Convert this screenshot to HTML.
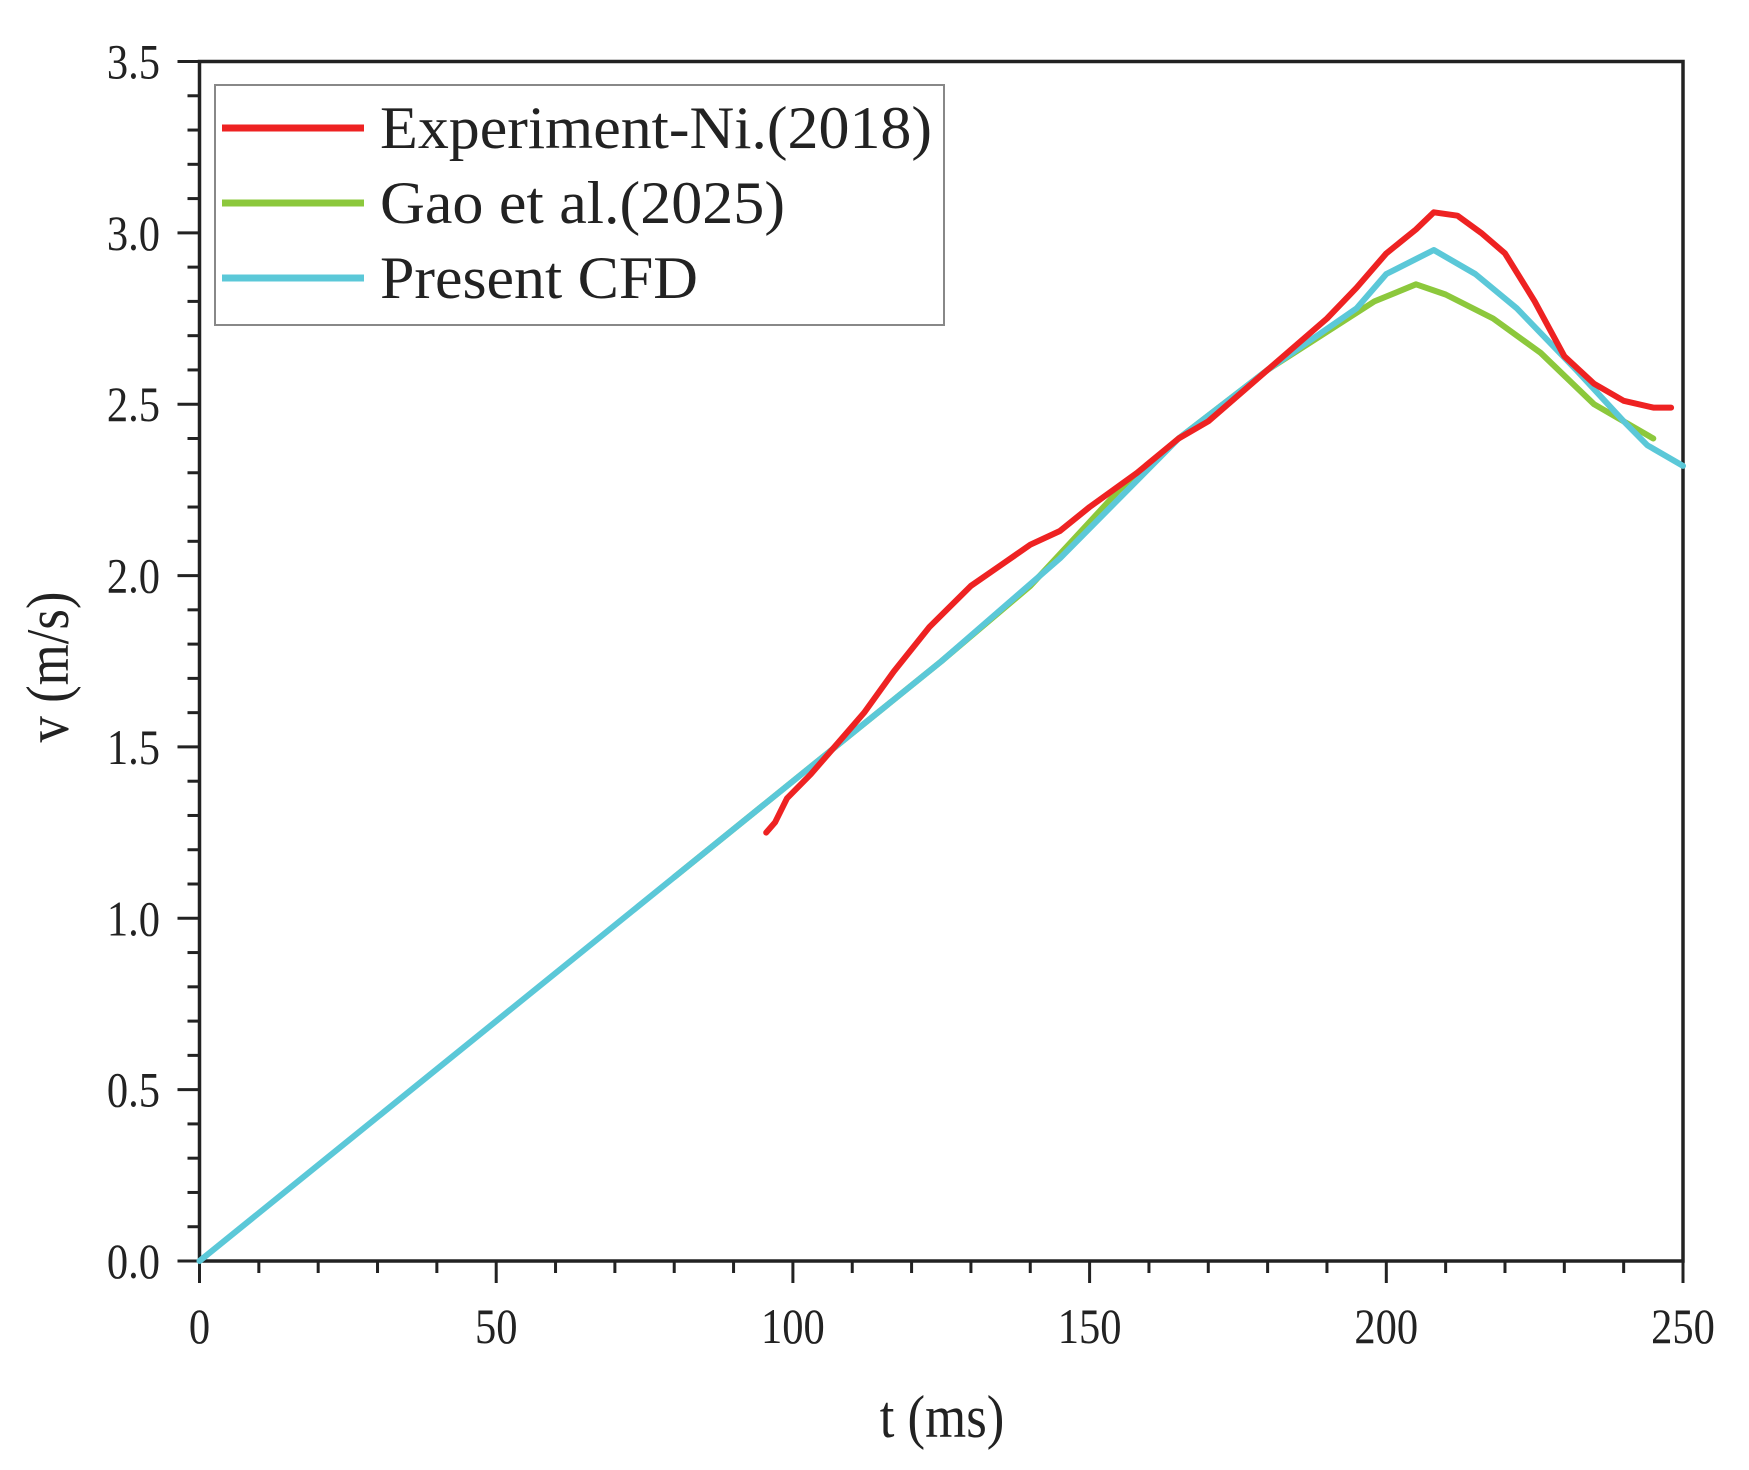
<!DOCTYPE html>
<html><head><meta charset="utf-8"><style>
html,body{margin:0;padding:0;background:#fff;}
svg{display:block;font-family:"Liberation Serif",serif;}
</style></head><body>
<svg id="chart" width="1749" height="1470" viewBox="0 0 1749 1470">
<g id="axes"></g>
<g id="series"></g>
<g id="legend"></g>
</svg>
<script>
const xTicks=[0,50,100,150,200,250];
const yTicks=[0.0,0.5,1.0,1.5,2.0,2.5,3.0,3.5];
const yTickLabels=["0.0","0.5","1.0","1.5","2.0","2.5","3.0","3.5"];
const expT=[95.5,97,99,103,108,112,117,123,130,135,140,145,150,158,165,170,180,190,195,200,205,208,212,216,220,225,230,235,240,245,248];
const expV=[1.25,1.28,1.35,1.42,1.52,1.6,1.72,1.85,1.97,2.03,2.09,2.13,2.2,2.3,2.4,2.45,2.6,2.75,2.84,2.94,3.01,3.06,3.05,3.0,2.94,2.8,2.64,2.56,2.51,2.49,2.49];
const gaoT=[80,100,125,140,147,155,165,180,198,205,210,218,226,235,245];
const gaoV=[1.12,1.4,1.75,1.97,2.1,2.25,2.4,2.6,2.8,2.85,2.82,2.75,2.65,2.5,2.4];
const cfdT=[0,100,125,145,165,180,195,200,208,215,222,232,240,244,250];
const cfdV=[0,1.4,1.75,2.05,2.4,2.6,2.78,2.88,2.95,2.88,2.78,2.6,2.45,2.38,2.32];
const seriesNames=["Experiment-Ni.(2018)","Gao et al.(2025)","Present CFD"];
const seriesColors=["#ee2222","#8cc83c","#5bc8d8"];

const X0=199.5,X1=1683,Y0=1261,Y1=61.5;
const sx=t=>X0+(t-0)/(250-0)*(X1-X0);
const sy=v=>Y0-(v-0)/(3.5-0)*(Y0-Y1);
const NS="http://www.w3.org/2000/svg";
function mk(tag,attrs,parent){const e=document.createElementNS(NS,tag);for(const k in attrs)e.setAttribute(k,attrs[k]);parent.appendChild(e);return e;}
const axes=document.getElementById('axes');
const frame=mk('rect',{x:X0,y:Y1,width:X1-X0,height:Y0-Y1,fill:'none',stroke:'#222','stroke-width':3.5},axes);


for(let t=0;t<=250;t+=10){
  const major=t%50===0;
  const l=mk('line',{x1:sx(t),x2:sx(t),y1:Y0,y2:Y0+(major?22:12),stroke:'#222','stroke-width':3},axes);
  
  
}
for(let i=0;i<=35;i++){
  const v=i/10,major=i%5===0;
  const l=mk('line',{x1:X0,x2:X0-(major?22:12),y1:sy(v),y2:sy(v),stroke:'#222','stroke-width':3},axes);
  
  
}
xTicks.forEach(t=>{
  const tx=mk('text',{x:0,y:0,'font-size':50,'text-anchor':'middle',fill:'#222',transform:`translate(${sx(t)},1343) scale(0.85,1)`},axes);
  tx.textContent=String(t);
  
  
});
yTicks.forEach((v,i)=>{
  const tx=mk('text',{x:0,y:0,'font-size':50,'text-anchor':'end',fill:'#222',transform:`translate(160,${sy(v)+17}) scale(0.85,1)`},axes);
  tx.textContent=yTickLabels[i];
  
  
});
const xt=mk('text',{x:0,y:0,'font-size':60,'text-anchor':'middle',fill:'#222',transform:'translate(942,1437) scale(0.88,1)'},axes);
xt.textContent='t (ms)';


const yt=mk('text',{x:0,y:0,'font-size':60,'text-anchor':'middle',fill:'#222',transform:'translate(68,667) rotate(-90) scale(0.88,1)'},axes);
yt.textContent='v (m/s)';



const ser=document.getElementById('series');
const data=[[expT,expV],[gaoT,gaoV],[cfdT,cfdV]];
const names=['experiment-line','gao-line','cfd-line'];
[1,2,0].forEach(i=>{
  const [T,V]=data[i];
  const d=T.map((t,k)=>(k?'L':'M')+sx(t).toFixed(1)+','+sy(V[k]).toFixed(1)).join(' ');
  const p=mk('path',{d:d,fill:'none',stroke:seriesColors[i],'stroke-width':6,'stroke-linejoin':'round','stroke-linecap':'round'},ser);
  
  
});

const lg=document.getElementById('legend');
const box=mk('rect',{x:215,y:85,width:729,height:240,fill:'#fff',stroke:'#888','stroke-width':2},lg);


seriesNames.forEach((n,i)=>{
  const y=128+i*75;
  const l=mk('line',{x1:222,x2:364,y1:y,y2:y,stroke:seriesColors[i],'stroke-width':7},lg);
  
  
  const t=mk('text',{x:380,y:y+20,'font-size':60,fill:'#222',textLength:i===0?552:(i===1?405:318),lengthAdjust:'spacingAndGlyphs'},lg);
  t.textContent=n;
  
  
});
</script>
</body></html>
